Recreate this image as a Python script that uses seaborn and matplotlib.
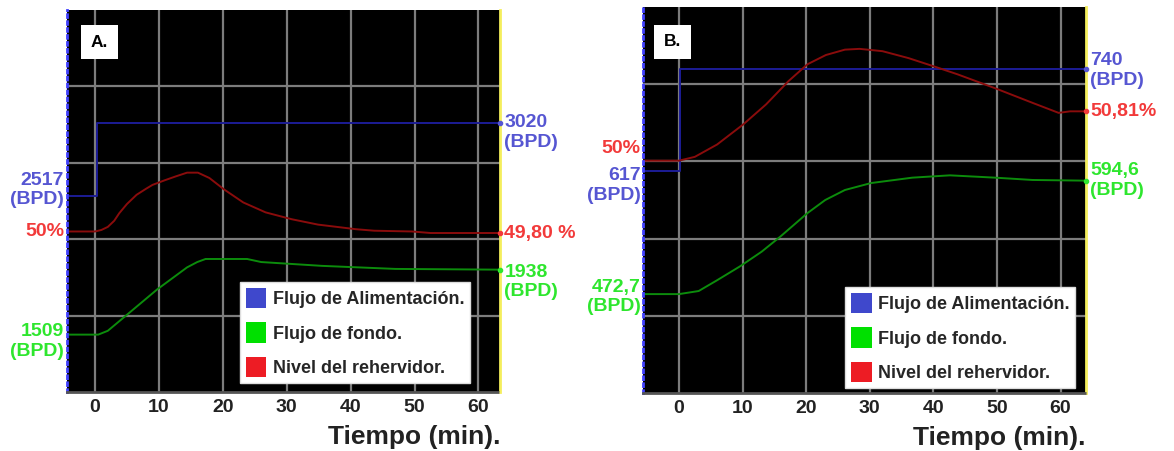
import numpy as np
import pandas as pd
import matplotlib
matplotlib.use("Agg")
import matplotlib.pyplot as plt
from matplotlib.patches import Patch
import seaborn as sns

# Vertical values are read in grid divisions (trend screen has 5 bands)

# Panel A
a_feed_t = [-5, 0.3, 64]
a_feed_v = [2.57, 3.52, 3.52]
a_level_t = [-5, 0, 1, 2, 3, 3.8, 5, 6.5, 8, 9, 10.9, 12.6, 14.4, 16.1, 17.9,
             20.2, 23.2, 26.7, 30.8, 34.9, 40.8, 43.7, 49.6, 52.5, 64]
a_level_v = [2.10, 2.10, 2.12, 2.16, 2.24, 2.34, 2.46, 2.58, 2.66, 2.71, 2.77,
             2.82, 2.87, 2.87, 2.80, 2.65, 2.48, 2.35, 2.26, 2.19, 2.13, 2.11,
             2.10, 2.08, 2.08]
a_bottom_t = [-5, 0.5, 2, 5, 9.7, 14.4, 16, 17.3, 23.8, 26, 35.5, 47, 64]
a_bottom_v = [0.75, 0.75, 0.80, 1.01, 1.34, 1.63, 1.70, 1.74, 1.74, 1.70, 1.65,
              1.61, 1.60]

# Panel B
b_feed_t = [-6, 0.2, 65]
b_feed_v = [2.87, 4.20, 4.20]
b_level_t = [-6, 0, 2.5, 6.0, 10.1, 13.7, 17.2, 20.2, 23.1, 26.1, 28.4, 32.0,
             36.1, 40.2, 43.8, 49.7, 55.6, 59.7, 61.5, 65]
b_level_v = [3.01, 3.01, 3.06, 3.22, 3.48, 3.74, 4.04, 4.26, 4.38, 4.45, 4.46,
             4.43, 4.34, 4.23, 4.13, 3.95, 3.76, 3.63, 3.65, 3.65]
b_bottom_t = [-6, 0, 3.1, 6, 9.6, 13, 16, 20.2, 23, 26.1, 30.2, 36.7, 42.6,
              49.7, 55.6, 65]
b_bottom_v = [1.28, 1.28, 1.32, 1.46, 1.64, 1.83, 2.03, 2.33, 2.50, 2.63, 2.72,
              2.79, 2.82, 2.79, 2.76, 2.75]

legend_labels = ["Flujo de Alimentación.", "Flujo de fondo.", "Nivel del rehervidor."]
x_ticks = [0, 10, 20, 30, 40, 50, 60]

LINE = {"feed": "#1c1c96", "bottom": "#0c8c0c", "level": "#8a0c0c"}
TEXT = {"feed": "#5656d2", "bottom": "#2ee62e", "level": "#f23a3a"}
PATCH = ["#3f48cc", "#00e000", "#ed1c24"]

sns.set_style("dark")
plt.rcParams["font.family"] = ["Liberation Sans", "DejaVu Sans"]
plt.rcParams["font.weight"] = "bold"


def draw_panel(ax, letter, xlim, series, left_labels, right_labels, letter_box, leg_anchor):
    ax.set_facecolor("black")
    for name, t, v in series:
        df = pd.DataFrame({"t": t, "v": v})
        kw = {"drawstyle": "steps-post"} if name == "feed" else {}
        sns.lineplot(data=df, x="t", y="v", ax=ax, color=LINE[name], linewidth=1.4,
                     sort=False, estimator=None, **kw)
        # end marker at right border
        ax.plot([xlim[1]], [v[-1]], "o", ms=3, color=TEXT[name], clip_on=False, zorder=5)

    ax.set_xlim(*xlim)
    ax.set_ylim(0, 5)
    ax.set_xticks(x_ticks)
    ax.set_yticks([1, 2, 3, 4])
    ax.set_yticklabels([])
    ax.grid(True, color="#7c7c7c", linewidth=1.6)
    ax.set_axisbelow(True)
    ax.tick_params(axis="x", length=0, pad=5, labelsize=14, labelcolor="#222222")
    ax.tick_params(axis="y", length=0)
    for lab in ax.get_xticklabels():
        lab.set_fontweight("bold")
    ax.set_xlabel("")
    ax.set_ylabel("")

    ax.spines["top"].set_visible(False)
    ax.spines["left"].set_visible(True)
    ax.spines["left"].set_color("#4040ff")
    ax.spines["left"].set_linestyle((0, (1, 1.5)))
    ax.spines["left"].set_linewidth(2)
    ax.spines["right"].set_visible(True)
    ax.spines["right"].set_color("#f4ee5c")
    ax.spines["right"].set_linewidth(2)
    ax.spines["bottom"].set_visible(True)
    ax.spines["bottom"].set_color("#555555")
    ax.spines["bottom"].set_linestyle((0, (1, 1)))
    ax.spines["bottom"].set_linewidth(2)

    # value labels outside the trend
    for name, y, txt, dy in left_labels:
        ax.annotate(txt, xy=(0, y), xycoords=("axes fraction", "data"),
                    xytext=(-2, dy), textcoords="offset points", ha="right",
                    va="center", fontsize=14, fontweight="bold", color=TEXT[name],
                    linespacing=1.2, annotation_clip=False)
    for name, y, txt, dy in right_labels:
        ax.annotate(txt, xy=(1, y), xycoords=("axes fraction", "data"),
                    xytext=(3, dy), textcoords="offset points", ha="left",
                    va="center", fontsize=14, fontweight="bold", color=TEXT[name],
                    linespacing=1.2, annotation_clip=False)

    ax.text(letter_box[0], letter_box[1], letter, transform=ax.transAxes,
            ha="center", va="center", fontsize=12.5, fontweight="bold", color="black",
            bbox=dict(boxstyle="square,pad=0.55", fc="white", ec="none"))

    handles = [Patch(facecolor=c, edgecolor="none") for c in PATCH]
    leg = ax.legend(handles, legend_labels, loc="lower right", bbox_to_anchor=leg_anchor,
                    frameon=True, fancybox=False, framealpha=1, facecolor="white",
                    edgecolor="#dddddd", prop={"weight": "bold", "size": 13},
                    handlelength=1.15, handleheight=1.35, handletextpad=0.35,
                    labelspacing=0.8, borderpad=0.3, borderaxespad=0)
    leg.get_frame().set_linewidth(1)

    ax.text(1.0, -0.118, "Tiempo (min).", transform=ax.transAxes, ha="right",
            va="center", fontsize=19, fontweight="bold", color="#222222")


fig = plt.figure(figsize=(11.74, 4.51), dpi=100)
fig.patch.set_facecolor("white")
ax_a = fig.add_axes([0.057, 0.131, 0.369, 0.847])
ax_b = fig.add_axes([0.548, 0.129, 0.377, 0.855])

draw_panel(
    ax_a, "A.", (-4.4, 63.4),
    [("feed", a_feed_t, a_feed_v), ("level", a_level_t, a_level_v),
     ("bottom", a_bottom_t, a_bottom_v)],
    [("feed", a_feed_v[0], "2517\n(BPD)", 4), ("level", a_level_v[0], "50%", 0),
     ("bottom", a_bottom_v[0], "1509\n(BPD)", -5)],
    [("feed", a_feed_v[-1], "3020\n(BPD)", -7), ("level", a_level_v[-1], "49,80 %", 0),
     ("bottom", a_bottom_v[-1], "1938\n(BPD)", -9)],
    (0.075, 0.915), (0.93, 0.024),
)
draw_panel(
    ax_b, "B.", (-5.6, 64.0),
    [("feed", b_feed_t, b_feed_v), ("level", b_level_t, b_level_v),
     ("bottom", b_bottom_t, b_bottom_v)],
    [("level", b_level_v[0], "50%", 9), ("feed", b_feed_v[0], "617\n(BPD)", -10),
     ("bottom", b_bottom_v[0], "472,7\n(BPD)", -2)],
    [("feed", b_feed_v[-1], "740\n(BPD)", -1), ("level", b_level_v[-1], "50,81%", 0),
     ("bottom", b_bottom_v[-1], "594,6\n(BPD)", 0)],
    (0.066, 0.91), (0.975, 0.013),
)

fig.savefig("out.png", dpi=100, facecolor="white")
